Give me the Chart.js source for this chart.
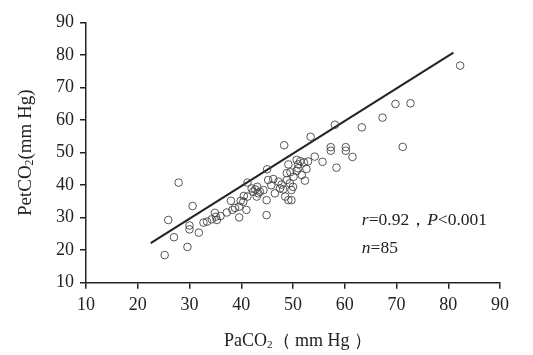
<!DOCTYPE html>
<html>
<head>
<meta charset="utf-8">
<script src="https://cdn.jsdelivr.net/npm/chart.js@4.4.1/dist/chart.umd.min.js"></script>
<style>
html,body{margin:0;padding:0;background:#fff;}
#wrap{width:533px;height:355px;position:relative;}
</style>
</head>
<body>
<div id="wrap"><canvas id="c" width="533" height="355"></canvas></div>
<script>
// PaCO2 (x) values
const paco2 = [25.2,25.9,27.0,27.9,29.6,30.0,30.0,30.6,31.8,32.7,33.4,34.3,34.9,35.1,35.3,37.2,38.0,38.3,38.8,39.6,
  39.6,39.9,40.4,40.5,41.0,41.2,41.2,42.3,42.7,43.1,43.6,43.3,44.3,45.0,45.2,44.9,44.9,46.2,47.2,47.5,
  46.5,48.1,49.7,49.1,49.7,48.3,48.8,48.8,49.4,49.1,50.1,50.7,51.4,52.1,51.0,51.0,50.7,52.6,51.7,52.3,
  52.9,53.4,54.2,55.7,57.3,57.3,58.1,58.4,60.2,60.2,61.5,63.3,67.3,69.8,71.2,72.7,82.3,47.8,45.8,48.5,
  43.0,50.0,36.0,42.0,49.5];
// PetCO2 (y) values
const petco2 = [18.5,29.3,24.0,40.8,21.0,27.6,26.4,33.6,25.4,28.5,28.8,29.5,31.5,30.3,29.3,31.6,35.2,32.4,33.0,30.1,
  33.4,35.2,34.9,36.7,32.4,36.5,40.8,38.0,38.7,39.5,38.0,37.5,38.5,44.9,41.6,35.4,30.8,41.9,41.1,39.0,
  37.5,38.7,38.5,35.4,35.4,52.3,43.7,41.6,40.6,46.4,42.6,47.8,47.4,47.0,46.4,45.2,44.4,45.0,43.1,41.4,
  47.3,54.9,48.8,47.2,51.7,50.6,58.6,45.4,51.7,50.6,48.7,57.8,60.8,65.0,51.8,65.2,76.8,40.2,40.0,36.5,
  36.5,39.5,30.5,39.0,44.0];
// regression line end points
const fitX = [22.5, 81.0];
const fitY = [22.2, 80.8];
// tick values
const xTicks = [10,20,30,40,50,60,70,80,90];
const yTicks = [10,20,30,40,50,60,70,80,90];
// annotation
const statLine1 = [["r",true],["=0.92，",false],["P",true],["<0.001",false]];
const statLine2 = [["n",true],["=85",false]];
const statPos = {x:63.3, y1:29.3, y2:20.7};

const SERIF = '"Liberation Serif", "Times New Roman", serif';
const INK = '#222';

function drawRich(ctx, parts, x, y, size){
  let cx = x;
  for (const [t, it] of parts){
    ctx.font = (it ? 'italic ' : '') + size + 'px ' + SERIF;
    ctx.fillText(t, cx, y);
    cx += ctx.measureText(t).width;
  }
}
function drawSub(ctx, segs, size){
  let total = 0;
  for (const [t, s] of segs){ ctx.font = (s ? size*0.62 : size) + 'px ' + SERIF; total += ctx.measureText(t).width; }
  let cx = -total/2;
  for (const [t, s] of segs){
    ctx.font = (s ? size*0.62 : size) + 'px ' + SERIF;
    ctx.fillText(t, cx, s ? size*0.22 : 0);
    cx += ctx.measureText(t).width;
  }
}

const overlay = {
  id:'overlay',
  afterDraw(chart){
    const ctx = chart.ctx, xs = chart.scales.x, ys = chart.scales.y, a = chart.chartArea;
    ctx.save();
    ctx.fillStyle = INK;
    ctx.textBaseline = 'middle';
    ctx.textAlign = 'left';
    const px = xs.getPixelForValue(statPos.x);
    drawRich(ctx, statLine1, px, ys.getPixelForValue(statPos.y1), 17.5);
    drawRich(ctx, statLine2, px, ys.getPixelForValue(statPos.y2), 17.5);
    // x title
    ctx.save();
    ctx.translate((a.left + a.right)/2 + 5, 341);
    drawSub(ctx, [["PaCO",false],["2",true],["（ mm Hg ）",false]], 18);
    ctx.restore();
    // y title
    ctx.save();
    ctx.translate(26, (a.top + a.bottom)/2);
    ctx.rotate(-Math.PI/2);
    drawSub(ctx, [["PetCO",false],["2",true],["(mm Hg)",false]], 19);
    ctx.restore();
    ctx.restore();
  }
};

const points = paco2.map((x,i)=>({x, y: petco2[i]}));
const fit = fitX.map((x,i)=>({x, y: fitY[i]}));

new Chart(document.getElementById('c'), {
  type:'scatter',
  data:{datasets:[
    {data:points, pointStyle:'circle', pointRadius:3.8, pointBorderWidth:0.9, borderColor:'#444', backgroundColor:'rgba(255,255,255,0)', pointHoverRadius:3.8},
    {type:'line', data:fit, borderColor:'#222', borderWidth:2, pointRadius:0, fill:false, tension:0}
  ]},
  options:{
    responsive:false, animation:false,
    layout:{padding:{left:0, right:33, top:22.7, bottom:0}},
    plugins:{legend:{display:false}, tooltip:{enabled:false}},
    scales:{
      x:{type:'linear', min:10, max:90,
        afterBuildTicks(s){ s.ticks = xTicks.map(v=>({value:v})); },
        afterFit(s){ s.height = 355 - 282.7; },
        grid:{drawOnChartArea:false, drawTicks:true, tickLength:6, color:INK, lineWidth:1.5},
        border:{display:true, color:INK, width:1.5},
        ticks:{color:INK, font:{family:SERIF, size:18}, padding:6, maxRotation:0}
      },
      y:{type:'linear', min:10, max:90,
        afterBuildTicks(s){ s.ticks = yTicks.map(v=>({value:v})); },
        afterFit(s){ s.width = 86; },
        grid:{drawOnChartArea:false, drawTicks:true, tickLength:6, color:INK, lineWidth:1.5},
        border:{display:true, color:INK, width:1.5},
        ticks:{color:INK, font:{family:SERIF, size:18}, padding:6}
      }
    }
  },
  plugins:[overlay]
});
</script>
</body>
</html>
